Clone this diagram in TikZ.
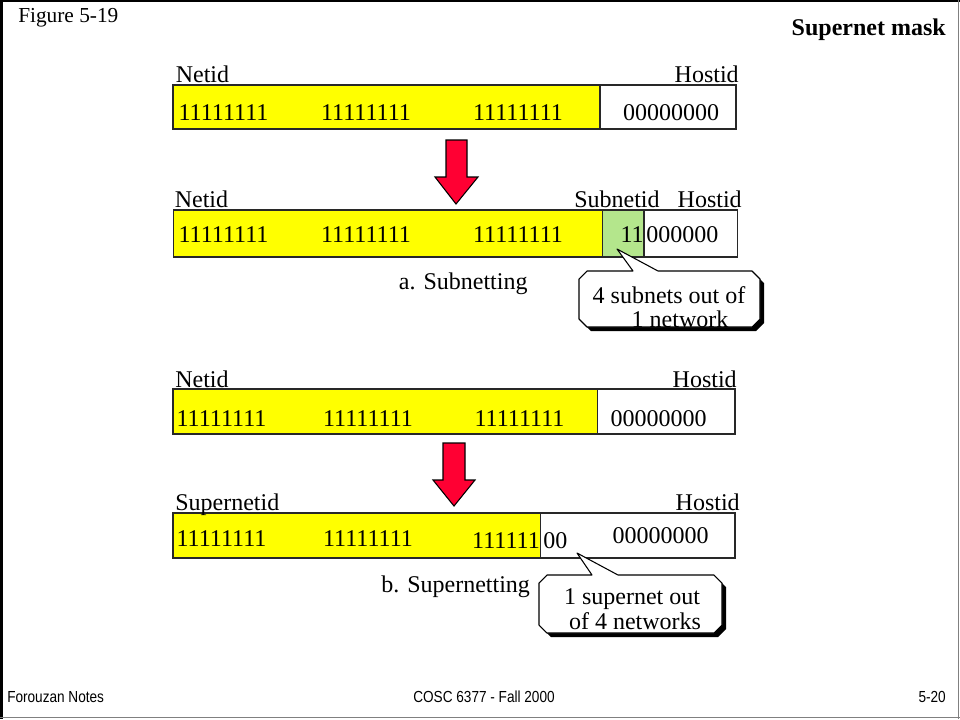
\documentclass[tikz,border=0pt]{standalone}
\usepackage{fontspec}
\setmainfont{Liberation Serif}
\newfontfamily\footfont[FakeStretch=0.85]{Liberation Sans}
\definecolor{barY}{RGB}{255,255,0}
\definecolor{subG}{RGB}{180,230,140}
\definecolor{arrR}{RGB}{255,0,51}
\definecolor{edgeG}{RGB}{40,40,40}
\begin{document}
\begin{tikzpicture}[x=0.75pt,y=-0.75pt,
  txt/.style={inner sep=0pt,font=\fontsize{18}{20}\selectfont},
  barline/.style={draw=edgeG,line width=1.1pt},
  redarrow/.style={fill=arrR,draw=black,line width=0.8pt,line join=miter},
  callout/.style={fill=white,draw=black,line width=0.8pt,line join=round},
  shadowfill/.style={fill=black},
  foot/.style={inner sep=0pt,font=\footfont\fontsize{12}{14}\selectfont}]
\useasboundingbox (0,0) rectangle (960,719);
% frame
\draw[line width=2.2pt] (1.5,0) -- (1.5,719);
\draw[line width=1.4pt] (0,1) -- (960,1);
\draw[gray,line width=0.9pt] (958.5,0) -- (958.5,719);
\draw[gray,line width=0.9pt] (0,717.5) -- (960,717.5);
% header
\node[inner sep=0pt,anchor=base west,font=\fontsize{16}{18}\selectfont] (fig) at (18,22) {Figure 5-19};
\node[inner sep=0pt,anchor=base east,font=\fontsize{18}{20}\selectfont\bfseries] (ttl) at (946,35) {Supernet mask};
% footer
\node[foot,anchor=base west] (f1) at (7,702) {Forouzan Notes};
\node[foot,anchor=base] (f2) at (484,702) {COSC 6377 - Fall 2000};
\node[foot,anchor=base east] (f3) at (946,702) {5-20};

% ---------- row 1
\fill[barY] (173,85) rectangle (600,129);
\draw[barline] (173,85) rectangle (736,129);
\draw[barline] (600,85) -- (600,129);
\node[txt,anchor=base west] (n1) at (175.5,82.5) {Netid};
\node[txt,anchor=base east] (h1) at (739,82.5) {Hostid};
\node[txt,anchor=base] (r1a) at (223.5,120) {11111111};
\node[txt,anchor=base] (r1b) at (366,120) {11111111};
\node[txt,anchor=base] (r1c) at (518,120) {11111111};
\node[txt,anchor=base] (r1d) at (671,120) {00000000};

% arrow 1
\draw[redarrow] (446,140) -- (467,140) -- (467,177) -- (478,177) -- (456,204) -- (435,177) -- (446,177) -- cycle;

% ---------- row 2
\fill[barY] (173.5,210) rectangle (602.5,257);
\fill[subG] (602.5,210) rectangle (644,257);
\draw[barline] (173.5,210) rectangle (737.5,257);
\draw[barline] (602.5,210) -- (602.5,257);
\draw[barline] (644,210) -- (644,257);
\node[txt,anchor=base west] (n2) at (174.5,207.5) {Netid};
\node[txt,anchor=base west] (s2) at (574,207.5) {Subnetid};
\node[txt,anchor=base east] (h2) at (742,207.5) {Hostid};
\node[txt,anchor=base] (r2a) at (223.5,242) {11111111};
\node[txt,anchor=base] (r2b) at (366,242) {11111111};
\node[txt,anchor=base] (r2c) at (518,242) {11111111};
\node[txt,anchor=base east] (r2d) at (644,242) {11};
\node[txt,anchor=base west] (r2e) at (646,242) {000000};
\node[txt,anchor=base west] (capa) at (398.6,289) {a. Subnetting};

% callout 1
\coordinate (tipA) at (617,249);
\fill[shadowfill] (587+4,271+4) -- (752+4,271+4) -- (760+4,279+4) -- (760+4,319+4) -- (752+4,327+4) -- (587+4,327+4) -- (579+4,319+4) -- (579+4,279+4) -- cycle;
\draw[callout] (587,271) -- (633,271) -- (tipA) -- (658,271) -- (752,271) -- (760,279) -- (760,319) -- (752,327) -- (587,327) -- (579,319) -- (579,279) -- cycle;
\node[txt,anchor=base] (ca1) at (669,303) {4 subnets out of};
\node[txt,anchor=base] (ca2) at (680,327.5) {1 network};

% ---------- row 3
\fill[barY] (173,389) rectangle (597.5,434);
\draw[barline] (173,389) rectangle (735,434);
\draw[barline] (597.5,389) -- (597.5,434);
\node[txt,anchor=base west] (n3) at (175,387) {Netid};
\node[txt,anchor=base east] (h3) at (737,387) {Hostid};
\node[txt,anchor=base] (r3a) at (221.5,426) {11111111};
\node[txt,anchor=base] (r3b) at (368,426) {11111111};
\node[txt,anchor=base] (r3c) at (519.5,426) {11111111};
\node[txt,anchor=base] (r3d) at (658.5,426) {00000000};

% arrow 2
\draw[redarrow] (443,443) -- (465,443) -- (465,480) -- (475,480) -- (454,506) -- (433,480) -- (443,480) -- cycle;

% ---------- row 4
\fill[barY] (173,513) rectangle (540.5,558);
\draw[barline] (173,513) rectangle (735,558);
\draw[barline] (540.5,513) -- (540.5,558);
\node[txt,anchor=base west] (n4) at (175,510) {Supernetid};
\node[txt,anchor=base east] (h4) at (740,510) {Hostid};
\node[txt,anchor=base] (r4a) at (221.5,546) {11111111};
\node[txt,anchor=base] (r4b) at (368,546) {11111111};
\node[txt,anchor=base east] (r4c) at (540,548) {111111};
\node[txt,anchor=base west] (r4d) at (543,548) {00};
\node[txt,anchor=base] (r4e) at (660.7,543) {00000000};
\node[txt,anchor=base west] (capb) at (381,592.6) {b. Supernetting};

% callout 2
\coordinate (tipB) at (577,553);
\fill[shadowfill] (547+4,575+4) -- (714+4,575+4) -- (722+4,583+4) -- (722+4,625+4) -- (714+4,633+4) -- (547+4,633+4) -- (539+4,625+4) -- (539+4,583+4) -- cycle;
\draw[callout] (547,575) -- (592,575) -- (tipB) -- (618,575) -- (714,575) -- (722,583) -- (722,625) -- (714,633) -- (547,633) -- (539,625) -- (539,583) -- cycle;
\node[txt,anchor=base] (cb1) at (632,604) {1 supernet out};
\node[txt,anchor=base] (cb2) at (635,629) {of 4 networks};
\end{tikzpicture}
\end{document}
